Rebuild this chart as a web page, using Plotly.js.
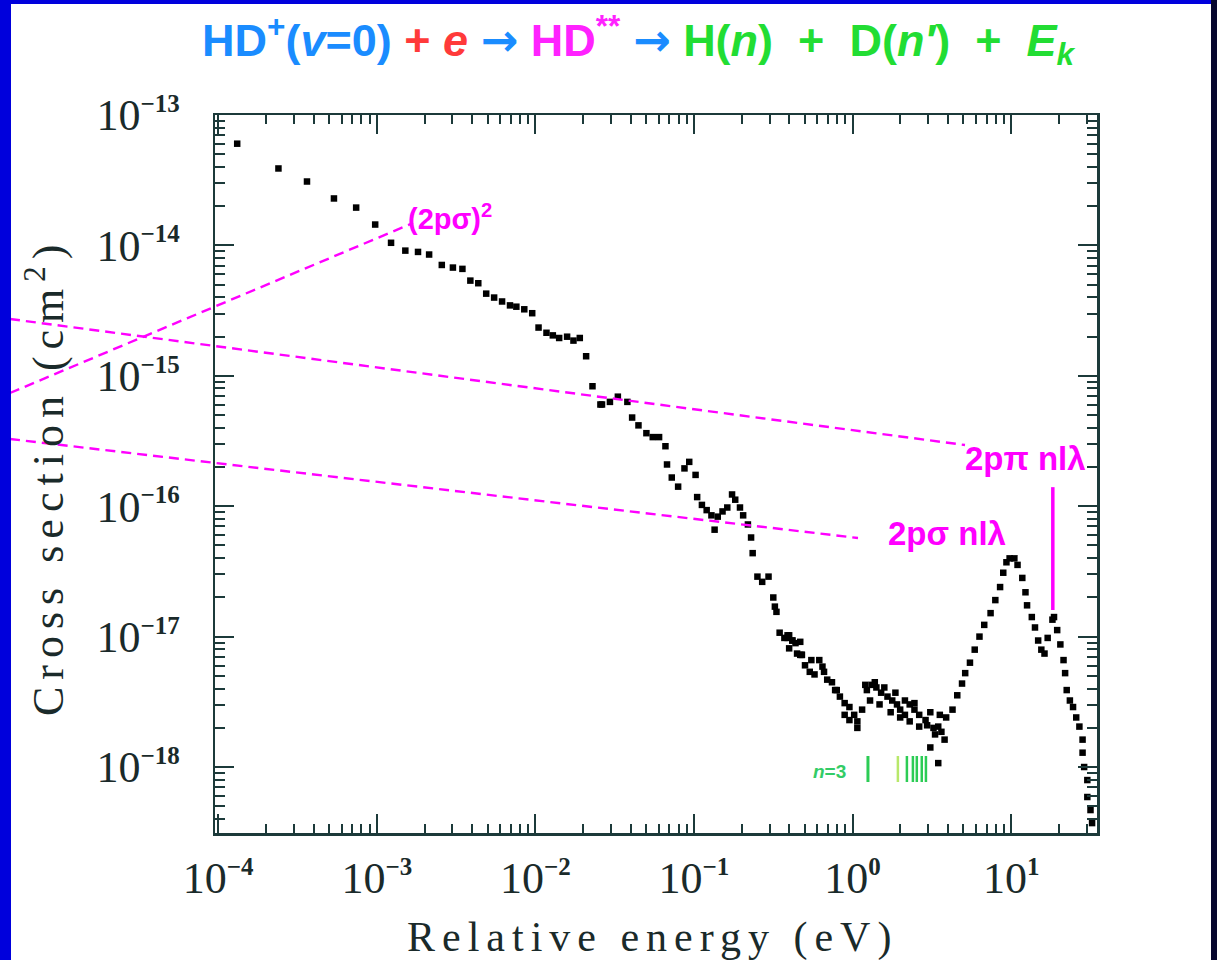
<!DOCTYPE html>
<html>
<head>
<meta charset="utf-8">
<script src="https://cdn.plot.ly/plotly-3.0.1.min.js"></script>
<style>html,body{margin:0;padding:0;background:#fff;}#chart{width:1217px;height:960px;}</style>
</head>
<body>
<div id="chart"></div>
<script>
// ---- data (log10 values) ----
const logEnergy = [
-3.88,-3.62,-3.44,-3.27,-3.13,-3.01,-2.91,-2.82,-2.74,-2.67,-2.59,-2.52,-2.46,-2.41,-2.36,-2.31,-2.26,-2.21,-2.16,-2.12,
-2.07,-2.02,-1.98,-1.93,-1.89,-1.85,-1.80,-1.76,-1.72,-1.68,-1.64,-1.59,-1.58,-1.53,-1.48,-1.42,-1.39,-1.35,-1.30,-1.26,
-1.22,-1.18,-1.17,-1.14,-1.10,-1.06,-1.03,-0.99,-0.98,-0.95,-0.92,-0.89,-0.87,-0.85,-0.82,-0.79,-0.76,-0.74,-0.71,-0.69,
-0.66,-0.64,-0.63,-0.60,-0.57,-0.53,-0.50,-0.49,-0.48,-0.46,-0.43,-0.41,-0.41,-0.40,-0.40,-0.38,-0.38,-0.36,-0.35,-0.33,-0.33,-0.32,-0.32,-0.30,
-0.27,-0.26,-0.24,-0.21,-0.19,-0.18,-0.16,-0.13,-0.11,-0.10,-0.08,-0.05,-0.05,-0.02,-0.02,0.01,0.03,0.03,0.06,0.08,
0.09,0.11,0.12,0.14,0.15,0.17,0.18,0.20,0.22,0.24,0.25,0.27,0.28,0.30,0.30,0.33,0.33,0.36,0.36,0.39,
0.39,0.42,0.42,0.46,0.47,0.49,0.49,0.51,0.52,0.54,0.54,0.55,0.56,0.58,0.59,0.63,0.66,0.69,0.71,0.74,
0.77,0.80,0.83,0.87,0.90,0.93,0.95,0.97,0.99,1.02,1.04,1.07,1.09,1.10,1.13,1.15,1.17,1.19,1.21,1.23,
1.26,1.27,1.29,1.31,1.33,1.34,1.35,1.37,1.39,1.41,1.43,1.45,1.45,1.46,1.48,1.48,1.50,1.51
];
const logSigma = [
-13.22,-13.41,-13.51,-13.64,-13.71,-13.84,-13.98,-14.04,-14.05,-14.07,-14.15,-14.17,-14.18,-14.27,-14.29,-14.37,-14.40,-14.43,-14.46,-14.47,
-14.49,-14.52,-14.63,-14.67,-14.69,-14.71,-14.70,-14.73,-14.71,-14.85,-15.08,-15.22,-15.22,-15.20,-15.16,-15.20,-15.32,-15.38,-15.44,-15.47,
-15.47,-15.54,-15.68,-15.78,-15.85,-15.71,-15.66,-15.76,-15.93,-15.99,-16.03,-16.07,-16.18,-16.08,-16.04,-16.01,-15.91,-15.95,-16.01,-16.07,
-16.14,-16.24,-16.36,-16.54,-16.58,-16.54,-16.70,-16.77,-16.81,-16.97,-17.01,-17.01,-16.99,-16.99,-17.09,-17.03,-17.03,-17.05,-17.13,-17.04,-17.14,-17.14,-17.14,-17.22,
-17.27,-17.18,-17.29,-17.18,-17.23,-17.27,-17.33,-17.35,-17.41,-17.41,-17.46,-17.51,-17.60,-17.54,-17.64,-17.60,-17.65,-17.70,-17.56,-17.37,
-17.41,-17.49,-17.37,-17.35,-17.39,-17.52,-17.43,-17.39,-17.46,-17.58,-17.49,-17.43,-17.52,-17.56,-17.62,-17.49,-17.60,-17.52,-17.65,-17.51,
-17.56,-17.60,-17.69,-17.64,-17.68,-17.58,-17.85,-17.70,-17.75,-17.69,-17.97,-17.60,-17.73,-17.79,-17.62,-17.56,-17.45,-17.36,-17.28,-17.20,
-17.10,-17.00,-16.91,-16.82,-16.72,-16.62,-16.51,-16.43,-16.40,-16.40,-16.45,-16.55,-16.66,-16.76,-16.85,-16.93,-17.03,-17.10,-17.13,-17.01,
-16.87,-16.85,-16.95,-17.06,-17.18,-17.28,-17.41,-17.49,-17.54,-17.62,-17.69,-17.79,-17.89,-18.00,-18.10,-18.23,-18.33,-18.43
];
const xTickExponents = [-4,-3,-2,-1,0,1];
const yTickExponents = [-13,-14,-15,-16,-17,-18];
const dissociationLimitsEV = [1.25, 1.93, 2.20, 2.40, 2.54, 2.73, 2.90]; // n=3 ... markers
const pinLineEV = 18.3; // 2pπ nlλ marker
const pinLineSigma = [1.4e-16, 1.6e-17];

// ---- geometry ----
const W = 1217, H = 960;
const L = 215, R = 120, T = 115, B = 127;
const PW = W - L - R, PH = H - T - B;
const xRange = [-4.02, 1.541];
const yRange = [-18.506, -13.0];
const px = x => (x - L) / PW;
const py = y => (H - B - y) / PH;
const ex = e => (Math.log10(e) - xRange[0]) / (xRange[1] - xRange[0]);
const sy = s => (Math.log10(s) - yRange[0]) / (yRange[1] - yRange[0]);

const energy = logEnergy.map(v => Math.pow(10, v));
const sigma = logSigma.map(v => Math.pow(10, v));

const supLabel = e => `10<sup><span style="font-size:25px;font-weight:bold">${e < 0 ? '\u2212' : ''}${Math.abs(e)}</span></sup>`;

function minorVals(lo, hi) {
  const out = [];
  for (let k = lo; k < hi; k++) for (let m = 2; m <= 9; m++) out.push(m * Math.pow(10, k));
  return out;
}

const frameColor = '#1c3a3a';
const magenta = '#ff00ff';

const axisCommon = {
  type: 'log',
  showline: true, linecolor: frameColor, linewidth: 2.5, mirror: 'allticks',
  ticks: 'inside', ticklen: 19, tickwidth: 2, tickcolor: frameColor,
  showgrid: false, zeroline: false,
  tickfont: {family: 'Liberation Serif', size: 44, color: '#1a2a2a'},
  tickmode: 'array'
};

const arrow = c => `<span style="color:${c};font-family:'DejaVu Sans'">\u2192</span>`;
const sp = '\u00a0\u00a0';

const layout = {
  width: W, height: H,
  paper_bgcolor: '#ffffff', plot_bgcolor: '#ffffff',
  margin: {l: L, r: R, t: T, b: B, pad: 0},
  showlegend: false,
  font: {family: 'Liberation Serif', color: '#1a2a2a'},
  title: {
    text: '<b><span style="color:#1a8cff">HD<sup>+</sup>(<i>v</i>=0)</span> <span style="color:#ff3a3a">+ <i>e</i></span> ' + arrow('#1a8cff') +
          ' <span style="color:#ff22ff">HD<sup>**</sup></span> ' + arrow('#1a8cff') +
          ' <span style="color:#22dd33">H(<i>n</i>)' + sp + '+' + sp + 'D(<i>n\u2032</i>)' + sp + '+' + sp + '<i>E<sub>k</sub></i></span></b>',
    font: {family: 'Liberation Sans', size: 45},
    x: 638 / W, xanchor: 'center', xref: 'container',
    y: 1 - 40 / H, yanchor: 'middle', yref: 'container'
  },
  xaxis: Object.assign({}, axisCommon, {
    range: xRange,
    tickvals: xTickExponents.map(e => Math.pow(10, e)),
    ticktext: xTickExponents.map(supLabel),
    ticklabelstandoff: 5,
    minor: {tickvals: minorVals(-4, 2), ticks: 'inside', ticklen: 9, tickwidth: 2, tickcolor: frameColor}
  }),
  yaxis: Object.assign({}, axisCommon, {
    range: yRange,
    tickvals: yTickExponents.map(e => Math.pow(10, e)),
    ticktext: yTickExponents.map(supLabel),
    ticklabelstandoff: 24,
    minor: {tickvals: minorVals(-19, -13), ticks: 'inside', ticklen: 10, tickwidth: 2, tickcolor: frameColor}
  }),
  shapes: [],
  annotations: []
};

// dashed magenta guide lines (pixel anchors)
const dashed = [
  [10, 393, 413, 223],
  [10, 319, 965, 445],
  [10, 439, 858, 538]
];
dashed.forEach(d => layout.shapes.push({
  type: 'line', xref: 'paper', yref: 'paper',
  x0: px(d[0]), y0: py(d[1]), x1: px(d[2]), y1: py(d[3]),
  line: {color: magenta, width: 2.4, dash: '10px,6px'}, layer: 'above'
}));

// solid magenta marker line for 2pπ nlλ
layout.shapes.push({
  type: 'line', xref: 'paper', yref: 'paper',
  x0: ex(pinLineEV), x1: ex(pinLineEV), y0: sy(pinLineSigma[0]), y1: sy(pinLineSigma[1]),
  line: {color: magenta, width: 3.5}, layer: 'above'
});

// green dissociation-limit markers
dissociationLimitsEV.forEach((e, i) => layout.shapes.push({
  type: 'line', xref: 'paper', yref: 'paper',
  x0: ex(e), x1: ex(e), y0: py(782), y1: py(756),
  line: {color: i === 1 ? '#b8e86a' : '#2ccc55', width: i === 0 ? 3 : 2.5}, layer: 'above'
}));

// border strips of the slide
layout.shapes.push({type: 'rect', xref: 'paper', yref: 'paper', x0: px(0), x1: px(11), y0: py(960), y1: py(0), fillcolor: '#0000dc', line: {width: 0}, layer: 'above'});
layout.shapes.push({type: 'rect', xref: 'paper', yref: 'paper', x0: px(0), x1: px(1217), y0: py(4), y1: py(0), fillcolor: '#0000dc', line: {width: 0}, layer: 'above'});
layout.shapes.push({type: 'rect', xref: 'paper', yref: 'paper', x0: px(1211), x1: px(1217), y0: py(960), y1: py(0), fillcolor: '#06062e', line: {width: 0}, layer: 'above'});

// annotations
const ann = (text, x, y, opts) => layout.annotations.push(Object.assign({
  text, xref: 'paper', yref: 'paper', x: px(x), y: py(y), showarrow: false
}, opts));

ann('<span style="letter-spacing:7px">Relative energy (eV)</span>', 652, 937,
  {xanchor: 'center', yanchor: 'middle', font: {family: 'Liberation Serif', size: 42, color: '#1a2a2a'}});
ann('<span style="letter-spacing:7px">Cross section (cm<sup>2</sup>)</span>', 46, 477,
  {xanchor: 'center', yanchor: 'middle', textangle: -90, font: {family: 'Liberation Serif', size: 44, color: '#1a2a2a'}});
ann('<b>(2p\u03c3)<sup>2</sup></b>', 406, 217,
  {xanchor: 'left', yanchor: 'middle', font: {family: 'Liberation Sans', size: 29, color: magenta}});
ann('<b>2p\u03c0 nl\u03bb</b>', 963, 458,
  {xanchor: 'left', yanchor: 'middle', font: {family: 'Liberation Sans', size: 33, color: magenta}});
ann('<b>2p\u03c3 nl\u03bb</b>', 886, 533,
  {xanchor: 'left', yanchor: 'middle', font: {family: 'Liberation Sans', size: 33, color: magenta}});
ann('<b><i>n</i>=3</b>', 829, 771,
  {xanchor: 'center', yanchor: 'middle', font: {family: 'Liberation Sans', size: 19, color: '#33cc66'}});

const trace = {
  x: energy, y: sigma, type: 'scatter', mode: 'markers',
  marker: {symbol: 'square', size: 6.5, color: '#000000'},
  cliponaxis: true, hoverinfo: 'skip'
};

Plotly.newPlot('chart', [trace], layout, {displayModeBar: false, staticPlot: true});
</script>
</body>
</html>
